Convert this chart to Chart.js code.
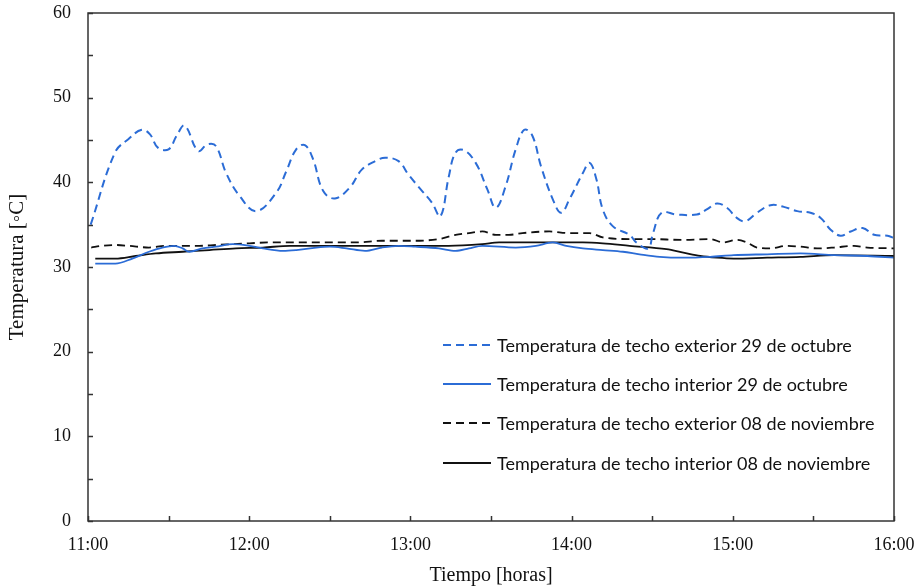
<!DOCTYPE html>
<html>
<head>
<meta charset="utf-8">
<script src="https://cdn.jsdelivr.net/npm/chart.js@4.4.1/dist/chart.umd.min.js"></script>
<style>
html,body{margin:0;padding:0;background:#fff;}
#wrap{width:920px;height:588px;}
</style>
</head>
<body>
<div id="wrap"><canvas id="c" width="920" height="588"></canvas></div>
<script>
// x values: minutes after 11:00
const xTickLabels = ["11:00","12:00","13:00","14:00","15:00","16:00"];
const seriesLabels = [
  "Temperatura de techo exterior 29 de octubre",
  "Temperatura de techo interior 29 de octubre",
  "Temperatura de techo exterior 08 de noviembre",
  "Temperatura de techo interior 08 de noviembre"
];

const extOctTime = [1,10,15,20,23,26,30,33,36,41,44.5,47.6,51.4,56.4,62.6,70.1,73.8,77.5,80.7,83.8,87.5,91.9,97.5,101.9,106.9,110.6,115.6,119.3,124.3,128,131.2,134.3,136.8,139.9,144.3,148.6,151.8,155.5,159.2,162.4,165.4,168.6,173,176.1,179.2,184.2,186.7,189.2,191.6,195.4,201.6,204.1,208.5,210.3,213.5,219.1,226.6,230.3,234.1,237.8,241.5,244.6,249,254,259,264,268.9,272.7,276.4,280.1,283.9,288.3,292.6,297.6,300];
const extOctTemp = [35.0,43.5,45.1,46.2,45.7,44.1,43.9,45.5,46.7,43.7,44.5,44.3,41.1,38.4,36.6,38.8,41.3,43.9,44.4,42.7,39.0,38.1,39.4,41.5,42.5,42.9,42.5,40.9,39.0,37.6,36.0,40.7,43.5,43.8,42.3,39.2,37.0,39.6,43.9,46.2,45.5,41.9,38.0,36.4,38.0,41.1,42.3,40.4,36.8,34.8,33.8,32.9,32.2,34.0,36.4,36.2,36.2,36.8,37.5,37.0,35.8,35.4,36.4,37.3,37.1,36.6,36.4,35.8,34.4,33.7,34.2,34.6,33.8,33.7,33.4];

const intOctTime = [2.7,10.2,16.5,22.7,27.7,32.1,35.2,37.7,42.6,47.6,53.9,60.1,65.1,72.6,77.5,85,90,96.2,103.1,109.4,115.6,121.8,130.6,136.8,141.8,146.8,159.2,166.7,173,178,184.2,191.6,199.1,205.3,212.8,221.6,231.6,240.3,252.8,265.2,277.7,290.1,300];
const intOctTemp = [30.4,30.4,31.0,31.8,32.3,32.5,32.2,31.8,32.2,32.4,32.7,32.5,32.2,31.9,32.0,32.3,32.4,32.2,31.9,32.3,32.5,32.4,32.2,31.9,32.2,32.5,32.3,32.5,32.9,32.5,32.2,32.0,31.8,31.5,31.2,31.1,31.2,31.4,31.5,31.6,31.4,31.3,31.1];

const extNovTime = [1.2,5.2,10.2,15.2,22.7,28.9,41.4,47.6,60.1,67.6,77.5,92.5,100,109.4,121.8,130.6,136.8,141.8,146.8,151.8,156.7,161.7,171.7,179.2,186.7,191.6,201.6,209.1,221.6,231.6,236.5,241.5,245.2,249,254,260.2,265.2,271.4,277.7,285.1,290.1,300];
const extNovTemp = [32.3,32.5,32.6,32.5,32.3,32.5,32.5,32.6,32.8,32.9,32.9,32.9,32.9,33.1,33.1,33.3,33.8,34.0,34.2,33.8,33.8,34.0,34.2,34.0,34.0,33.5,33.3,33.3,33.2,33.3,32.9,33.2,32.9,32.3,32.2,32.5,32.4,32.2,32.3,32.5,32.3,32.2];

const intNovTime = [2.7,10.2,17.7,25.2,35.2,45.2,55.1,65.1,75.1,97.5,134.3,146.8,153,184.2,191.6,201.6,215.3,221.6,227.9,234.1,240.3,252.8,265.2,277.7,300];
const intNovTemp = [31.0,31.0,31.3,31.6,31.8,32.0,32.2,32.3,32.5,32.5,32.5,32.7,32.9,32.9,32.8,32.5,32.1,31.7,31.3,31.1,31.0,31.1,31.2,31.4,31.3];

const blue = '#2b6cd6';
const black = '#111111';

function pts(t, v){ return t.map((x,i)=>({x:x, y:v[i]})); }

const frameAndTicks = {
  id:'frameAndTicks',
  afterDraw(chart){
    const {ctx, chartArea:a, scales} = chart;
    ctx.save();
    ctx.strokeStyle = '#333';
    ctx.lineWidth = 1.5;
    ctx.beginPath();
    for(let v=0; v<=60; v+=5){
      const y = Math.round(scales.y.getPixelForValue(v))+0.5;
      ctx.moveTo(a.left, y); ctx.lineTo(a.left+5, y);
    }
    for(let m=0; m<=300; m+=30){
      const x = Math.round(scales.x.getPixelForValue(m))+0.5;
      ctx.moveTo(x, a.bottom); ctx.lineTo(x, a.bottom-5);
    }
    ctx.stroke();
    ctx.strokeRect(a.left, a.top, a.right-a.left, a.bottom-a.top);
    ctx.restore();
  }
};

const insideLegend = {
  id:'insideLegend',
  afterDraw(chart){
    const {ctx} = chart;
    const rowsY = [345, 384, 423, 463];
    ctx.save();
    ctx.font = '18px Lato';
    ctx.textBaseline = 'middle';
    ctx.textAlign = 'left';
    chart.data.datasets.forEach((ds,i)=>{
      const y = rowsY[i];
      ctx.strokeStyle = ds.borderColor;
      ctx.lineWidth = ds.borderWidth;
      ctx.setLineDash(ds.borderDash || []);
      ctx.beginPath();
      ctx.moveTo(443, y); ctx.lineTo(491, y);
      ctx.stroke();
      ctx.setLineDash([]);
      ctx.fillStyle = '#111';
      ctx.fillText(ds.label, 497, y+1);
    });
    ctx.restore();
  }
};

new Chart(document.getElementById('c'), {
  type:'line',
  data:{
    datasets:[
      {label:seriesLabels[0], data:pts(extOctTime, extOctTemp), borderColor:blue, borderWidth:2, borderDash:[8,5], tension:0.4, pointRadius:0, fill:false},
      {label:seriesLabels[1], data:pts(intOctTime, intOctTemp), borderColor:blue, borderWidth:1.8, tension:0.4, cubicInterpolationMode:'monotone', pointRadius:0, fill:false},
      {label:seriesLabels[2], data:pts(extNovTime, extNovTemp), borderColor:black, borderWidth:1.8, borderDash:[8,5], tension:0.4, cubicInterpolationMode:'monotone', pointRadius:0, fill:false},
      {label:seriesLabels[3], data:pts(intNovTime, intNovTemp), borderColor:black, borderWidth:1.8, tension:0.4, cubicInterpolationMode:'monotone', pointRadius:0, fill:false}
    ]
  },
  options:{
    responsive:false,
    animation:false,
    layout:{padding:{top:13, right:26, bottom:0, left:0}},
    plugins:{legend:{display:false}, tooltip:{enabled:false}},
    scales:{
      x:{
        type:'linear', min:0, max:300,
        afterFit(s){ s.height = 67; s.paddingLeft = 0; s.paddingRight = 0; },
        afterBuildTicks(s){ s.ticks = [0,60,120,180,240,300].map(v=>({value:v})); },
        grid:{display:false, drawTicks:false},
        border:{display:false},
        ticks:{
          padding:13, color:'#111', maxRotation:0,
          font:{family:'"Liberation Serif"', size:18},
          callback:(v)=> xTickLabels[Math.round(v/60)]
        },
        title:{display:true, text:'Tiempo [horas]', color:'#111', font:{family:'"Liberation Serif"', size:20}, padding:{top:0,bottom:0}}
      },
      y:{
        min:0, max:60,
        afterFit(s){ s.width = 88; s.paddingTop = 0; s.paddingBottom = 0; },
        grid:{display:false, drawTicks:false},
        border:{display:false},
        ticks:{stepSize:10, padding:17, color:'#111', font:{family:'"Liberation Serif"', size:18}},
        title:{display:true, text:'Temperatura [◦C]', color:'#111', font:{family:'"Liberation Serif"', size:21}, padding:{top:5,bottom:0}}
      }
    }
  },
  plugins:[frameAndTicks, insideLegend]
});
</script>
</body>
</html>
